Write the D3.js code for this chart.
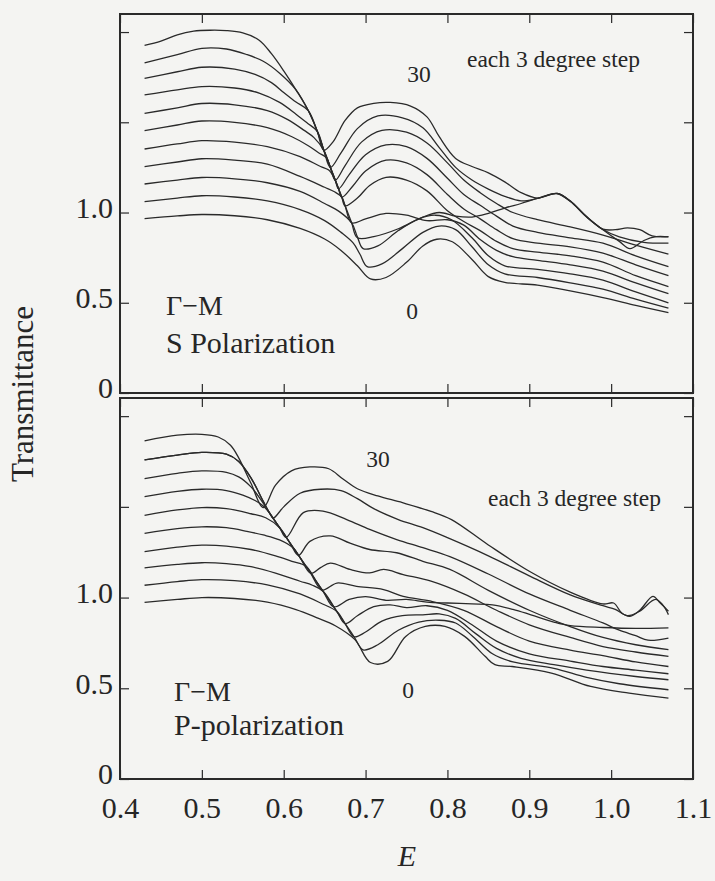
<!DOCTYPE html>
<html>
<head>
<meta charset="utf-8">
<script src="https://cdn.jsdelivr.net/npm/d3@7"></script>
<style>
  html, body { margin: 0; padding: 0; background: #f4f4f2; }
  svg { display: block; }
  text { font-family: "Liberation Serif", "Times New Roman", serif; fill: #262626; }
</style>
</head>
<body>
<svg id="chart" width="715" height="881"></svg>
<script>
// Incidence angles, one spectrum each (curves are stacked, 3 degree step)
const angles = [0, 3, 6, 9, 12, 15, 18, 21, 24, 27, 30];
const xTicks = [0.4, 0.5, 0.6, 0.7, 0.8, 0.9, 1.0, 1.1];
const xTickLabels = ["0.4", "0.5", "0.6", "0.7", "0.8", "0.9", "1.0", "1.1"];
const yTicks = [0, 0.5, 1.0, 1.5, 2.0];
const yTickLabels = ["0", "0.5", "1.0", "", ""];

// S polarization, [E, transmittance (stacked)]
const sPol0 = [[0.43,0.966],[0.47,0.981],[0.50,0.989],[0.54,0.982],[0.58,0.960],[0.62,0.912],[0.65,0.853],[0.67,0.790],[0.69,0.705],[0.706,0.632],[0.725,0.640],[0.75,0.724],[0.77,0.815],[0.787,0.852],[0.806,0.838],[0.83,0.740],[0.85,0.645],[0.87,0.613],[0.91,0.598],[0.95,0.566],[0.99,0.529],[1.03,0.486],[1.07,0.445]];
const sPol3 = [[0.43,1.060],[0.47,1.080],[0.50,1.093],[0.54,1.086],[0.58,1.064],[0.62,1.016],[0.65,0.955],[0.67,0.890],[0.685,0.830],[0.693,0.770],[0.702,0.700],[0.72,0.715],[0.745,0.800],[0.77,0.890],[0.79,0.925],[0.81,0.905],[0.83,0.810],[0.85,0.710],[0.87,0.660],[0.91,0.640],[0.95,0.610],[0.99,0.575],[1.03,0.520],[1.07,0.470]];
const sPol6 = [[0.43,1.158],[0.47,1.180],[0.50,1.194],[0.54,1.187],[0.58,1.165],[0.62,1.117],[0.65,1.050],[0.668,1.005],[0.683,0.943],[0.69,0.865],[0.697,0.800],[0.715,0.815],[0.74,0.900],[0.765,0.965],[0.785,0.985],[0.805,0.960],[0.83,0.860],[0.85,0.760],[0.87,0.705],[0.91,0.685],[0.95,0.660],[0.99,0.625],[1.03,0.560],[1.07,0.500]];
const sPol9 = [[0.43,1.254],[0.47,1.280],[0.50,1.298],[0.54,1.290],[0.58,1.268],[0.62,1.200],[0.65,1.140],[0.662,1.115],[0.671,1.085],[0.675,1.037],[0.683,0.943],[0.69,0.860],[0.71,0.866],[0.74,0.910],[0.77,0.975],[0.79,1.000],[0.81,0.980],[0.83,0.975],[0.85,0.995],[0.87,1.025],[0.89,1.050],[0.91,1.078],[0.934,1.106],[0.95,1.065],[0.97,0.975],[0.99,0.905],[1.01,0.840],[1.023,0.800],[1.04,0.845],[1.055,0.866],[1.07,0.865]];
const sPol12 = [[0.43,1.352],[0.47,1.380],[0.50,1.398],[0.54,1.390],[0.58,1.365],[0.62,1.310],[0.645,1.255],[0.655,1.235],[0.663,1.179],[0.667,1.132],[0.671,1.085],[0.675,1.037],[0.683,0.943],[0.70,0.965],[0.725,0.995],[0.75,0.985],[0.775,0.955],[0.80,0.960],[0.82,0.930],[0.84,0.850],[0.86,0.790],[0.88,0.755],[0.91,0.735],[0.95,0.710],[0.99,0.675],[1.03,0.610],[1.07,0.550]];
const sPol15 = [[0.43,1.454],[0.47,1.485],[0.50,1.507],[0.54,1.500],[0.58,1.470],[0.61,1.420],[0.63,1.370],[0.643,1.330],[0.652,1.305],[0.657,1.250],[0.663,1.179],[0.667,1.132],[0.671,1.085],[0.675,1.037],[0.69,1.080],[0.705,1.150],[0.725,1.195],[0.75,1.180],[0.775,1.120],[0.80,1.010],[0.82,0.950],[0.84,0.900],[0.86,0.840],[0.88,0.800],[0.91,0.780],[0.95,0.760],[0.99,0.725],[1.03,0.650],[1.07,0.590]];
const sPol18 = [[0.43,1.549],[0.47,1.580],[0.50,1.604],[0.54,1.597],[0.58,1.565],[0.605,1.515],[0.625,1.455],[0.637,1.415],[0.649,1.345],[0.657,1.250],[0.663,1.179],[0.667,1.132],[0.671,1.085],[0.685,1.150],[0.70,1.230],[0.725,1.290],[0.75,1.275],[0.775,1.210],[0.80,1.100],[0.82,1.020],[0.84,0.965],[0.86,0.905],[0.88,0.855],[0.91,0.830],[0.95,0.810],[0.99,0.775],[1.03,0.710],[1.07,0.650]];
const sPol21 = [[0.43,1.652],[0.47,1.680],[0.50,1.698],[0.54,1.690],[0.57,1.662],[0.595,1.610],[0.615,1.545],[0.629,1.495],[0.641,1.450],[0.649,1.345],[0.657,1.250],[0.663,1.179],[0.667,1.132],[0.68,1.210],[0.70,1.320],[0.725,1.375],[0.75,1.365],[0.775,1.300],[0.80,1.190],[0.82,1.100],[0.84,1.040],[0.86,0.980],[0.88,0.925],[0.91,0.890],[0.95,0.860],[0.99,0.830],[1.03,0.760],[1.07,0.700]];
const sPol24 = [[0.43,1.743],[0.47,1.780],[0.50,1.805],[0.54,1.795],[0.565,1.765],[0.585,1.720],[0.60,1.665],[0.615,1.612],[0.63,1.565],[0.641,1.450],[0.649,1.345],[0.657,1.250],[0.663,1.179],[0.675,1.260],[0.695,1.390],[0.72,1.455],[0.75,1.445],[0.775,1.385],[0.80,1.275],[0.82,1.180],[0.84,1.110],[0.86,1.050],[0.88,1.000],[0.91,0.960],[0.95,0.920],[0.99,0.875],[1.03,0.820],[1.07,0.770]];
const sPol27 = [[0.43,1.829],[0.47,1.875],[0.50,1.910],[0.53,1.906],[0.555,1.875],[0.575,1.838],[0.595,1.772],[0.615,1.680],[0.63,1.565],[0.641,1.450],[0.649,1.345],[0.657,1.250],[0.67,1.330],[0.69,1.465],[0.715,1.535],[0.745,1.525],[0.77,1.470],[0.79,1.360],[0.81,1.250],[0.83,1.180],[0.85,1.130],[0.87,1.090],[0.89,1.065],[0.91,1.078],[0.934,1.104],[0.95,1.062],[0.97,0.976],[0.99,0.906],[1.01,0.865],[1.04,0.835],[1.07,0.830]];
const sPol30 = [[0.43,1.926],[0.45,1.950],[0.47,1.985],[0.49,2.005],[0.51,2.010],[0.53,2.008],[0.55,1.995],[0.57,1.955],[0.585,1.880],[0.60,1.785],[0.615,1.680],[0.63,1.565],[0.641,1.450],[0.649,1.345],[0.66,1.390],[0.675,1.510],[0.69,1.580],[0.71,1.605],[0.73,1.610],[0.755,1.590],[0.775,1.530],[0.79,1.420],[0.81,1.300],[0.83,1.255],[0.85,1.220],[0.87,1.170],[0.89,1.110],[0.91,1.080],[0.934,1.106],[0.95,1.062],[0.97,0.978],[0.99,0.908],[1.005,0.905],[1.02,0.915],[1.035,0.905],[1.05,0.870],[1.07,0.866]];

// P polarization, [E, transmittance (stacked)]
const pPol0 = [[0.43,0.974],[0.47,0.990],[0.50,1.000],[0.54,0.995],[0.58,0.975],[0.615,0.934],[0.64,0.890],[0.663,0.845],[0.687,0.768],[0.706,0.642],[0.727,0.648],[0.749,0.786],[0.773,0.841],[0.797,0.841],[0.821,0.786],[0.846,0.676],[0.858,0.630],[0.879,0.620],[0.927,0.584],[0.975,0.510],[1.022,0.473],[1.07,0.446]];
const pPol3 = [[0.43,1.068],[0.47,1.088],[0.50,1.099],[0.54,1.093],[0.58,1.070],[0.62,1.020],[0.645,0.970],[0.665,0.923],[0.675,0.857],[0.686,0.784],[0.697,0.712],[0.715,0.740],[0.74,0.820],[0.765,0.865],[0.79,0.875],[0.81,0.860],[0.83,0.790],[0.855,0.690],[0.88,0.645],[0.93,0.610],[0.97,0.560],[1.01,0.525],[1.07,0.492]];
const pPol6 = [[0.43,1.164],[0.47,1.183],[0.50,1.192],[0.53,1.187],[0.56,1.170],[0.59,1.135],[0.62,1.090],[0.635,1.068],[0.648,1.035],[0.665,0.923],[0.675,0.857],[0.686,0.784],[0.70,0.810],[0.72,0.870],[0.745,0.900],[0.77,0.905],[0.79,0.910],[0.81,0.885],[0.835,0.800],[0.86,0.720],[0.89,0.665],[0.93,0.630],[0.97,0.600],[1.03,0.565],[1.07,0.547]];
const pPol9 = [[0.43,1.253],[0.47,1.278],[0.50,1.289],[0.53,1.284],[0.56,1.265],[0.59,1.230],[0.61,1.200],[0.627,1.174],[0.64,1.088],[0.648,1.035],[0.665,0.923],[0.675,0.857],[0.69,0.900],[0.71,0.950],[0.73,0.960],[0.75,0.945],[0.775,0.955],[0.80,0.930],[0.83,0.850],[0.86,0.760],[0.90,0.690],[0.95,0.650],[0.99,0.620],[1.03,0.600],[1.07,0.580]];
const pPol12 = [[0.43,1.354],[0.47,1.380],[0.50,1.390],[0.53,1.385],[0.555,1.365],[0.575,1.345],[0.595,1.318],[0.612,1.272],[0.62,1.220],[0.632,1.141],[0.648,1.035],[0.661,0.949],[0.68,0.990],[0.70,1.005],[0.725,0.985],[0.75,0.990],[0.775,0.975],[0.80,0.970],[0.83,0.965],[0.855,0.960],[0.88,0.935],[0.902,0.905],[0.93,0.865],[0.95,0.845],[0.99,0.835],[1.03,0.830],[1.07,0.833]];
const pPol15 = [[0.43,1.453],[0.47,1.483],[0.50,1.496],[0.53,1.490],[0.56,1.462],[0.578,1.440],[0.595,1.385],[0.608,1.299],[0.62,1.220],[0.632,1.141],[0.647,1.042],[0.665,1.080],[0.689,1.062],[0.722,1.044],[0.746,1.007],[0.78,0.980],[0.82,0.930],[0.86,0.840],[0.90,0.760],[0.95,0.710],[0.99,0.680],[1.03,0.645],[1.07,0.620]];
const pPol18 = [[0.43,1.556],[0.47,1.585],[0.50,1.597],[0.53,1.590],[0.55,1.565],[0.565,1.535],[0.575,1.505],[0.583,1.464],[0.595,1.385],[0.608,1.299],[0.62,1.220],[0.633,1.134],[0.645,1.165],[0.657,1.190],[0.681,1.155],[0.705,1.136],[0.722,1.155],[0.746,1.127],[0.78,1.090],[0.82,1.020],[0.86,0.930],[0.90,0.850],[0.95,0.780],[0.99,0.730],[1.03,0.700],[1.07,0.676]];
const pPol21 = [[0.43,1.656],[0.47,1.685],[0.50,1.698],[0.53,1.690],[0.545,1.665],[0.56,1.610],[0.572,1.540],[0.583,1.464],[0.595,1.385],[0.608,1.299],[0.618,1.233],[0.632,1.310],[0.657,1.340],[0.681,1.300],[0.705,1.265],[0.738,1.247],[0.77,1.200],[0.803,1.155],[0.85,1.040],[0.90,0.930],[0.95,0.840],[0.99,0.780],[1.03,0.740],[1.07,0.713]];
const pPol24 = [[0.43,1.759],[0.47,1.785],[0.50,1.800],[0.53,1.790],[0.545,1.750],[0.56,1.660],[0.575,1.530],[0.583,1.464],[0.595,1.385],[0.603,1.332],[0.624,1.468],[0.648,1.477],[0.677,1.430],[0.705,1.376],[0.738,1.320],[0.77,1.275],[0.803,1.226],[0.85,1.130],[0.90,1.020],[0.95,0.930],[0.99,0.860],[1.01,0.820],[1.03,0.790],[1.045,0.765],[1.07,0.777]];
const pPol27 = [[0.43,1.759],[0.47,1.785],[0.50,1.800],[0.53,1.790],[0.545,1.750],[0.56,1.660],[0.575,1.530],[0.583,1.464],[0.587,1.438],[0.60,1.500],[0.62,1.575],[0.645,1.597],[0.67,1.590],[0.69,1.545],[0.71,1.490],[0.74,1.430],[0.77,1.385],[0.80,1.330],[0.85,1.230],[0.90,1.120],[0.95,1.015],[0.99,0.955],[1.005,0.935],[1.02,0.900],[1.035,0.925],[1.054,0.990],[1.063,0.960],[1.07,0.906]];
const pPol30 = [[0.43,1.864],[0.47,1.895],[0.50,1.900],[0.52,1.885],[0.535,1.840],[0.545,1.770],[0.56,1.630],[0.575,1.496],[0.59,1.620],[0.61,1.700],[0.632,1.720],[0.655,1.710],[0.672,1.655],[0.69,1.600],[0.715,1.560],[0.745,1.523],[0.78,1.475],[0.805,1.430],[0.85,1.290],[0.90,1.145],[0.95,1.030],[0.99,0.965],[1.003,0.970],[1.013,0.915],[1.023,0.897],[1.035,0.930],[1.051,1.007],[1.06,0.970],[1.07,0.925]];

const sCurves = [sPol0, sPol3, sPol6, sPol9, sPol12, sPol15, sPol18, sPol21, sPol24, sPol27, sPol30];
const pCurves = [pPol0, pPol3, pPol6, pPol9, pPol12, pPol15, pPol18, pPol21, pPol24, pPol27, pPol30];

const svg = d3.select("#chart");
const W = 715, H = 881;
svg.append("rect").attr("width", W).attr("height", H).attr("fill", "#f4f4f2");

const left = 120, right = 693;
const x = d3.scaleLinear().domain([0.4, 1.1]).range([left, right]);

const panels = [
  { top: 14, bottom: 393, curves: sCurves, showX: false,
    name: "S Polarization", nameX: 166, gmY: 315, nameY: 353,
    stepX: 467, stepY: 67, hiX: 419, hiY: 82, loX: 412, loY: 319 },
  { top: 398, bottom: 779, curves: pCurves, showX: true,
    name: "P-polarization", nameX: 174, gmY: 701, nameY: 735,
    stepX: 488, stepY: 506, hiX: 378, hiY: 467, loX: 408, loY: 698 }
];

const ink = "#2a2a2a";

panels.forEach(p => {
  const yS = d3.scaleLinear().domain([0, 2.1]).range([p.bottom, p.top]);
  const g = svg.append("g");

  const line = d3.line()
    .x(d => x(d[0]))
    .y(d => yS(d[1]))
    .curve(d3.curveCatmullRom.alpha(0.5));

  g.append("g").selectAll("path")
    .data(p.curves)
    .join("path")
    .attr("d", line)
    .attr("fill", "none")
    .attr("stroke", ink)
    .attr("stroke-width", 1.3)
    .attr("stroke-linejoin", "round");

  // axes with inward ticks on all four sides
  const tickLen = 9;
  const axL = d3.axisLeft(yS).tickValues(yTicks).tickSize(-tickLen).tickPadding(7)
    .tickFormat((d, i) => yTickLabels[i]);
  const axR = d3.axisRight(yS).tickValues(yTicks).tickSize(-tickLen).tickFormat("");
  const axT = d3.axisTop(x).tickValues(xTicks).tickSize(-tickLen).tickFormat("");
  const axB = d3.axisBottom(x).tickValues(xTicks).tickSize(-tickLen).tickPadding(18)
    .tickFormat((d, i) => p.showX ? xTickLabels[i] : "");

  const gl = g.append("g").attr("transform", `translate(${left},0)`).call(axL);
  const gr = g.append("g").attr("transform", `translate(${right},0)`).call(axR);
  const gt = g.append("g").attr("transform", `translate(0,${p.top})`).call(axT);
  const gb = g.append("g").attr("transform", `translate(0,${p.bottom})`).call(axB);
  [gl, gr, gt, gb].forEach(a => {
    a.select(".domain").remove();
    a.selectAll("line").attr("stroke", ink).attr("stroke-width", 1.2);
    a.selectAll("text").attr("font-family", "Liberation Serif, serif").attr("fill", "#262626");
  });
  gl.selectAll("text").attr("font-size", 30).attr("dy", "0.16em");
  gb.selectAll("text").attr("font-size", 30);

  // frame
  g.append("rect")
    .attr("x", left).attr("y", p.top)
    .attr("width", right - left).attr("height", p.bottom - p.top)
    .attr("fill", "none").attr("stroke", ink).attr("stroke-width", 2);

  // annotations
  g.append("text").attr("x", p.nameX).attr("y", p.gmY).attr("font-size", 28).text("Γ−M");
  g.append("text").attr("x", p.nameX).attr("y", p.nameY).attr("font-size", 30).text(p.name);
  g.append("text").attr("x", p.stepX).attr("y", p.stepY).attr("font-size", 23.5).text("each 3 degree step");
  g.append("text").attr("x", p.hiX).attr("y", p.hiY).attr("font-size", 23.5).attr("text-anchor", "middle").text(String(angles[angles.length - 1]));
  g.append("text").attr("x", p.loX).attr("y", p.loY).attr("font-size", 23.5).attr("text-anchor", "middle").text(String(angles[0]));
});

// axis titles
svg.append("text")
  .attr("transform", "translate(33,394) rotate(-90)")
  .attr("text-anchor", "middle")
  .attr("font-size", 31)
  .text("Transmittance");

svg.append("text")
  .attr("x", 407).attr("y", 866)
  .attr("text-anchor", "middle")
  .attr("font-size", 30)
  .attr("font-style", "italic")
  .text("E");
</script>
</body>
</html>
